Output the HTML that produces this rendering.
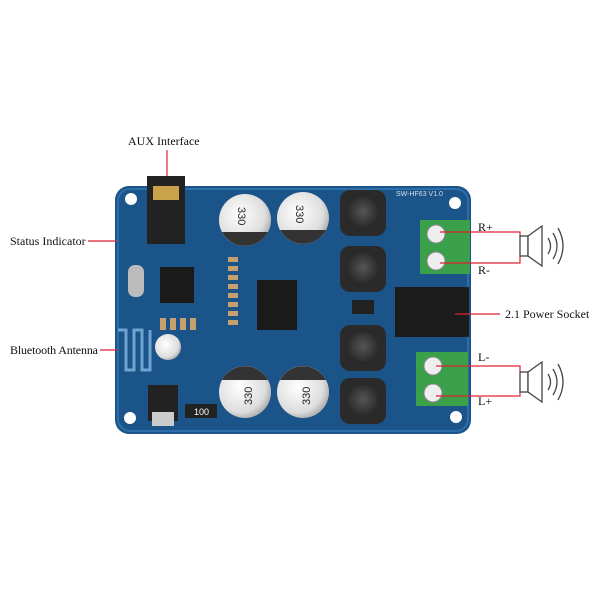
<!DOCTYPE html>
<html><head><style>
body{margin:0;background:#fff;width:600px;height:600px;overflow:hidden;font-family:"Liberation Serif",serif}
</style></head><body>
<svg width="600" height="600" viewBox="0 0 600 600" xmlns="http://www.w3.org/2000/svg">
<defs>
<radialGradient id="cap" cx="0.4" cy="0.4" r="0.7"><stop offset="0" stop-color="#fff"/><stop offset="0.7" stop-color="#ddd"/><stop offset="1" stop-color="#999"/></radialGradient>
<radialGradient id="ind" cx="0.5" cy="0.45" r="0.6"><stop offset="0" stop-color="#555"/><stop offset="1" stop-color="#222"/></radialGradient>
</defs>
<rect x="115" y="186" width="356" height="248" rx="14" fill="#1b5488"/>
<rect x="118" y="189" width="350" height="242" rx="12" fill="none" stroke="#2b6ea8" stroke-width="2"/>
<circle cx="131" cy="199" r="6" fill="#fff"/><circle cx="455" cy="203" r="6" fill="#fff"/>
<circle cx="130" cy="418" r="6" fill="#fff"/><circle cx="456" cy="417" r="6" fill="#fff"/>
<path d="M118 330 h8 v40 h8 v-40 h8 v40 h8 v-40" fill="none" stroke="#6fa3d0" stroke-width="3"/>
<rect x="147" y="176" width="38" height="68" fill="#222"/>
<rect x="153" y="186" width="26" height="14" fill="#c9a24a"/>
<rect x="160" y="267" width="34" height="36" fill="#1a1a1a"/>
<rect x="128" y="265" width="16" height="32" rx="7" fill="#bbb"/>
<rect x="257" y="280" width="40" height="50" fill="#1a1a1a"/>
<circle cx="168" cy="347" r="13" fill="url(#cap)"/>
<rect x="148" y="385" width="30" height="36" fill="#222"/><rect x="152" y="412" width="22" height="14" fill="#ccc"/>
<rect x="185" y="404" width="32" height="14" fill="#222"/><text x="194" y="415" font-size="9" fill="#fff" font-family="Liberation Sans,sans-serif">100</text>
<g fill="#c8a070"><rect x="228" y="257" width="10" height="5"/><rect x="228" y="266" width="10" height="5"/><rect x="228" y="275" width="10" height="5"/><rect x="228" y="284" width="10" height="5"/><rect x="228" y="293" width="10" height="5"/><rect x="228" y="302" width="10" height="5"/><rect x="228" y="311" width="10" height="5"/><rect x="228" y="320" width="10" height="5"/>
<rect x="160" y="318" width="6" height="12"/><rect x="170" y="318" width="6" height="12"/><rect x="180" y="318" width="6" height="12"/><rect x="190" y="318" width="6" height="12"/></g>
<g font-family="Liberation Sans,sans-serif" font-size="11" fill="#222">
<circle cx="245" cy="220" r="26" fill="url(#cap)"/><path d="M222 232 a26 26 0 0 0 46 0z" fill="#333"/>
<text x="0" y="0" transform="translate(238 207) rotate(90)">330</text>
<circle cx="303" cy="218" r="26" fill="url(#cap)"/><path d="M280 230 a26 26 0 0 0 46 0z" fill="#333"/>
<text x="0" y="0" transform="translate(296 205) rotate(90)">330</text>
<circle cx="245" cy="392" r="26" fill="url(#cap)"/><path d="M222 380 a26 26 0 0 1 46 0z" fill="#333"/>
<text x="0" y="0" transform="translate(252 405) rotate(-90)">330</text>
<circle cx="303" cy="392" r="26" fill="url(#cap)"/><path d="M280 380 a26 26 0 0 1 46 0z" fill="#333"/>
<text x="0" y="0" transform="translate(310 405) rotate(-90)">330</text>
</g>
<g>
<rect x="340" y="190" width="46" height="46" rx="10" fill="#2a2a2a"/><circle cx="363" cy="213" r="16" fill="url(#ind)"/>
<rect x="340" y="246" width="46" height="46" rx="10" fill="#2a2a2a"/><circle cx="363" cy="269" r="16" fill="url(#ind)"/>
<rect x="340" y="325" width="46" height="46" rx="10" fill="#2a2a2a"/><circle cx="363" cy="348" r="16" fill="url(#ind)"/>
<rect x="340" y="378" width="46" height="46" rx="10" fill="#2a2a2a"/><circle cx="363" cy="401" r="16" fill="url(#ind)"/>
<rect x="352" y="300" width="22" height="14" fill="#222"/>
</g>
<rect x="395" y="287" width="74" height="50" fill="#1c1c1c"/>
<rect x="420" y="220" width="50" height="54" fill="#3aa04a"/>
<circle cx="436" cy="234" r="9" fill="#eee" stroke="#888"/><circle cx="436" cy="261" r="9" fill="#eee" stroke="#888"/>
<rect x="416" y="352" width="52" height="54" fill="#3aa04a"/>
<circle cx="433" cy="366" r="9" fill="#eee" stroke="#888"/><circle cx="433" cy="393" r="9" fill="#eee" stroke="#888"/>
<text x="396" y="196" font-size="7" fill="#dde" font-family="Liberation Sans,sans-serif">SW-HF63 V1.0</text>
<g stroke="#d23" stroke-width="1.2" fill="none">
<line x1="167" y1="150" x2="167" y2="176"/>
<line x1="88" y1="241" x2="117" y2="241"/>
<line x1="100" y1="350" x2="118" y2="350"/>
<line x1="455" y1="314" x2="500" y2="314"/>
<polyline points="440,232 520,232 520,236"/>
<polyline points="440,263 520,263 520,256"/>
<polyline points="436,366 520,366 520,372"/>
<polyline points="436,396 520,396 520,390"/>
</g>
<g fill="#fff" stroke="#444" stroke-width="1.3">
<rect x="520" y="236" width="8" height="20"/><polygon points="528,236 542,226 542,266 528,256"/>
<rect x="520" y="372" width="8" height="20"/><polygon points="528,372 542,362 542,402 528,392"/>
</g>
<g fill="none" stroke="#444" stroke-width="1.3">
<path d="M548 238 q5 8 0 16"/><path d="M553 233 q8 13 0 26"/><path d="M558 228 q10 18 0 36"/>
<path d="M548 374 q5 8 0 16"/><path d="M553 369 q8 13 0 26"/><path d="M558 364 q10 18 0 36"/>
</g>
<g font-size="12" fill="#111">
<text x="128" y="145">AUX Interface</text>
<text x="10" y="245">Status Indicator</text>
<text x="10" y="354" textLength="88">Bluetooth Antenna</text>
<text x="505" y="318">2.1 Power Socket</text>
<text x="478" y="231">R+</text>
<text x="478" y="274">R-</text>
<text x="478" y="361">L-</text>
<text x="478" y="405">L+</text>
</g>
</svg>
</body></html>
